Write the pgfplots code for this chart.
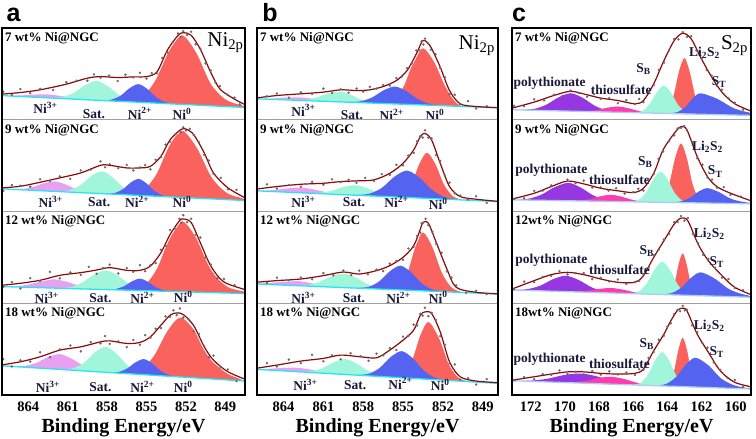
\documentclass[border=0pt]{standalone}
\usepackage{fontspec}
\setmainfont{Liberation Serif}
\newfontfamily\sansf{Liberation Sans}
\usepackage{pgfplots}
\pgfplotsset{compat=1.18}

\definecolor{cRed}{RGB}{250,98,94}
\definecolor{cBlue}{RGB}{85,100,240}
\definecolor{cAqua}{RGB}{160,245,218}
\definecolor{cViolet}{RGB}{232,160,240}
\definecolor{cPurple}{RGB}{150,55,225}
\definecolor{cPink}{RGB}{255,60,175}
\definecolor{cFit}{RGB}{140,10,10}
\definecolor{cBase}{RGB}{40,228,245}
\definecolor{cBaseC}{RGB}{170,205,245}
\definecolor{cLab}{RGB}{25,25,60}
\definecolor{cDot}{RGB}{105,105,105}

\pgfplotsset{
  sub/.style={scale only axis, height=91.75pt, ymin=0, ymax=92,
    ytick=\empty, xtick=\empty, x dir=reverse, anchor=north west,
    axis line style={draw=gray!75, line width=0.8pt},
    /pgf/number format/assume math mode=true,
    basel/.style={draw=cBase, line width=1.3pt}},
  pa/.style={sub, width=243pt, xmin=847.5, xmax=866},
  pb/.style={sub, width=241pt, xmin=847.85, xmax=866},
  pc/.style={sub, width=239pt, xmin=159.1, xmax=173.1,
    basel/.style={draw=cBaseC, line width=1.3pt}},
  bot/.style={xlabel={Binding Energy/eV},
    xlabel style={font=\bfseries\fontsize{20}{20}\selectfont,
      at={(axis description cs:0.5,0)}, anchor=base, yshift=-37pt},
    xticklabel style={font=\bfseries\fontsize{14.5}{14.5}\selectfont,
      anchor=base, yshift=-16.5pt},
    xtick pos=left, tick align=inside, major tick length=3pt,
    tick style={black, line width=0.8pt}},
  comp/.style={draw=none, fill=#1, smooth},
  cover/.style={draw=none, fill=white},
  halo/.style={white, line width=3.2pt, smooth},
  fitl/.style={cFit, line width=1.2pt, smooth},
  dots/.style={only marks, mark=*, mark size=1.0pt, color=cDot},
}
\tikzset{
  pk/.style={font=\bfseries\fontsize{13.5}{14}\selectfont, text=cLab, inner sep=0pt},
  tl/.style={font=\bfseries\fontsize{13}{14}\selectfont, anchor=west, inner sep=0pt},
  big/.style={font=\fontsize{21}{21}\selectfont, anchor=base east, inner sep=0pt},
}
% envelope, baseline
\newcommand{\spec}[2]{%
  \addplot[cover] coordinates {#2} \closedcycle;
  \addplot[halo] coordinates {#1};
  \addplot[basel] coordinates {#2};
  \addplot[fitl] coordinates {#1};}
\newcommand{\nilabels}[8]{%
  \node[pk] at (axis cs:#1,#2) {Ni\textsuperscript{3+}};
  \node[pk] at (axis cs:#3,#4) {Sat.};
  \node[pk] at (axis cs:#5,#6) {Ni\textsuperscript{2+}};
  \node[pk] at (axis cs:#7,#8) {Ni\textsuperscript{0}};}

\begin{document}
\begin{tikzpicture}
\path[use as bounding box] (0pt,0pt) rectangle (756pt,439pt);

% ---------------- panel a ----------------
\begin{axis}[pa, at={(2pt,411pt)}]
\addplot[comp=cRed] coordinates {(856.35,18.8)(855.34,22.8)(854.33,39.2)(853.31,68.3)(852.3,84.7)(851.21,67.0)(850.13,36.5)(849.04,20.8)(847.95,15.1)(846.9,12.9)} \closedcycle;
\addplot[comp=cViolet] coordinates {(866.5,24.5)(865.53,24.2)(864.55,24.4)(863.58,25.2)(862.6,25.5)(861.62,24.0)(860.65,21.9)(859.67,20.4)(858.7,19.5)} \closedcycle;
\addplot[comp=cAqua] coordinates {(862.25,22.0)(861.39,22.8)(860.53,27.0)(859.66,34.7)(858.8,39.0)(857.94,33.6)(857.08,24.8)(856.21,19.5)(855.35,17.5)} \closedcycle;
\addplot[comp=cBlue] coordinates {(858.3,19.4)(857.63,20.3)(856.95,24.3)(856.28,31.7)(855.6,35.7)(854.93,30.8)(854.25,22.5)(853.58,17.7)(852.9,16.0)} \closedcycle;
\spec{(866.2,25.5)(864.6,27.3)(863.1,30)(861.1,35.7)(859.5,41.7)(858.5,43.3)(857.2,42.3)(856.0,43)(855.0,43.3)(854.2,48)(853.4,70)(852.6,84.5)(852.2,87.3)(851.6,84.7)(850.9,70.7)(850.1,47.3)(849.4,30.7)(848.3,20.7)(847.3,13.8)}{(866,24.2)(847.5,12.3)}
\addplot[dots] coordinates {(865.9,28.2)(865.25,25.0)(864.6,30.8)(863.85,26.65)(863.1,31)(862.1,29.85)(861.1,37.7)(860.3,39.2)(859.5,39.2)(859.0,45.5)(858.5,42.3)(857.85,44.3)(857.2,38.8)(856.6,45.15)(856.0,42.5)(855.5,47.15)(855.0,41.3)(854.6,46.65)(854.2,46.5)(853.8,62)(853.4,67.5)(853.0,77.75)(852.6,86.5)(852.4,82.9)(852.2,88.8)(851.9,85)(851.6,88.2)(851.25,75.7)(850.9,71.2)(850.5,56.5)(850.1,49.3)(849.75,37.5)(849.4,33.7)(848.85,25.2)(848.3,22.2)(847.9,15.35)(847.5,16.5)};
\nilabels{862.7}{11.7}{859.0}{5.7}{855.5}{6.3}{852.3}{5.7}
\node[tl] at (rel axis cs:0.012,0.89) {7 wt\% Ni@NGC};
\node[big] at (rel axis cs:0.995,0.80) {Ni\textsubscript{2p}};
\end{axis}

\begin{axis}[pa, at={(2pt,319.25pt)}]
\addplot[comp=cRed] coordinates {(856.2,17.2)(855.225,21.3)(854.25,37.1)(853.275,65.25)(852.3,81.0)(851.175,63.9)(850.05,34.4)(848.925,18.9)(847.8,13.7)(846.9,11.6)} \closedcycle;
\addplot[comp=cViolet] coordinates {(865.3,22.4)(864.48,22.5)(863.65,24.5)(862.83,28.3)(862.0,30.2)(861.18,27.2)(860.35,22.4)(859.53,19.4)(858.7,18.2)} \closedcycle;
\addplot[comp=cAqua] coordinates {(861.7,20.25)(860.88,21.3)(860.05,26.2)(859.23,35.3)(858.4,40.3)(857.58,34.3)(856.75,24.1)(855.93,18.1)(855.1,16.05)} \closedcycle;
\addplot[comp=cBlue] coordinates {(858.0,17.8)(857.4,18.6)(856.8,22.3)(856.2,29.0)(855.6,32.7)(855.0,28.2)(854.4,20.8)(853.8,16.3)(853.2,14.8)} \closedcycle;
\spec{(866.2,23.5)(864.6,25.3)(863.1,29.3)(861.6,33.7)(860.0,38.7)(858.5,46.3)(857.8,46.3)(856.5,43.7)(855.5,43.7)(854.7,45.3)(853.9,55.3)(853.2,72)(852.4,82)(852.0,82.7)(851.4,77)(850.6,58.7)(849.9,38.7)(848.8,23.7)(847.3,12.3)}{(866,22.7)(847.5,11)}
\addplot[dots] coordinates {(865.9,20.7)(865.25,26.5)(864.6,25.8)(863.85,24.8)(863.1,32.3)(862.35,30.5)(861.6,35.2)(860.8,32.7)(860.0,41.2)(859.25,42.0)(858.5,50.3)(858.15,44.3)(857.8,47.3)(857.15,43.5)(856.5,46.7)(856.0,41.2)(855.5,44.2)(855.1,46.5)(854.7,42.3)(854.3,51.8)(853.9,54.3)(853.55,67.15)(853.2,70)(852.8,77.5)(852.4,79.5)(852.2,84.35)(852.0,81.2)(851.7,82.85)(851.4,76.5)(851.0,69.35)(850.6,56.7)(850.25,51.2)(849.9,37.7)(849.35,33.7)(848.8,22.2)(848.15,21.7)(847.5,10.7)};
\nilabels{862.3}{9.7}{858.6}{9.7}{855.7}{9.7}{852.3}{9.7}
\node[tl] at (rel axis cs:0.012,0.89) {9 wt\% Ni@NGC};
\end{axis}

\begin{axis}[pa, at={(2pt,227.5pt)}]
\addplot[comp=cRed] coordinates {(856.05,13.7)(855.11,18.3)(854.18,35.2)(853.24,65.4)(852.3,82.3)(851.18,64.6)(850.05,33.7)(848.93,17.2)(847.8,12.3)(846.9,10.5)} \closedcycle;
\addplot[comp=cViolet] coordinates {(865.9,16.8)(864.93,17.0)(863.95,18.8)(862.98,22.2)(862.0,24.0)(861.03,21.4)(860.05,17.3)(859.08,14.8)(858.1,13.8)} \closedcycle;
\addplot[comp=cAqua] coordinates {(861.7,15.3)(860.8,16.2)(859.9,20.7)(859.0,28.65)(858.1,33.0)(857.2,28.0)(856.3,19.3)(855.4,14.2)(854.5,12.6)} \closedcycle;
\addplot[comp=cBlue] coordinates {(857.9,13.7)(857.3,14.4)(856.7,17.1)(856.1,22.0)(855.5,24.7)(854.9,21.6)(854.3,16.2)(853.7,13.0)(853.1,11.9)} \closedcycle;
\spec{(866.2,17.8)(864.6,20)(863.1,23)(861.6,28)(860.0,30.7)(858.8,33.3)(857.8,35.7)(856.5,33)(855.5,33)(854.7,37.3)(853.9,50.7)(853.2,69)(852.5,82.5)(852.2,84.5)(851.6,81)(850.9,60.7)(850.1,37.3)(849.1,21.3)(847.3,13)}{(866,16.7)(847.5,9.7)}
\addplot[dots] coordinates {(865.9,16.5)(865.25,21.25)(864.6,14.75)(863.85,25.25)(863.1,22.25)(862.35,31.5)(861.6,25)(860.8,30.85)(860.0,28.45)(859.4,36.5)(858.8,29.55)(858.3,35.25)(857.8,38.7)(857.15,29.85)(856.5,35.25)(856.0,31.5)(855.5,38.25)(855.1,32.15)(854.7,38.05)(854.3,40.25)(853.9,53.7)(853.55,57.6)(853.2,73.5)(852.85,75)(852.5,84.75)(852.35,80.5)(852.2,88.25)(851.9,81.25)(851.6,84.75)(851.25,68.6)(850.9,65.95)(850.5,46)(850.1,38.8)(849.6,24.8)(849.1,24.3)(848.3,18.05)(847.5,9.55)};
\nilabels{862.6}{5.7}{858.5}{5}{855.3}{5.7}{852.2}{6.7}
\node[tl] at (rel axis cs:0.012,0.89) {12 wt\% Ni@NGC};
\end{axis}

\begin{axis}[pa, bot, at={(2pt,135.75pt)}, xtick={849,852,855,858,861,864}]
\addplot[comp=cRed] coordinates {(856.45,22.1)(855.44,25.4)(854.43,39.1)(853.41,63.9)(852.4,77.65)(851.2,62.1)(850.0,35.5)(848.8,21.1)(847.6,16.1)(846.9,14.5)} \closedcycle;
\addplot[comp=cViolet] coordinates {(865.2,28.8)(864.3,29.1)(863.4,32.1)(862.5,37.95)(861.6,41.0)(860.7,36.45)(859.8,29.2)(858.9,24.6)(858.0,22.9)} \closedcycle;
\addplot[comp=cAqua] coordinates {(861.4,25.8)(860.58,26.8)(859.75,32.4)(858.93,42.7)(858.1,48.3)(857.28,41.35)(856.45,29.7)(855.63,22.7)(854.8,20.3)} \closedcycle;
\addplot[comp=cBlue] coordinates {(857.75,22.7)(857.11,23.2)(856.48,26.5)(855.84,32.7)(855.2,36.0)(854.56,31.6)(853.93,24.4)(853.29,20.05)(852.65,18.4)} \closedcycle;
\spec{(866.2,29.8)(864.6,33.3)(863.1,38.3)(861.6,45)(860.0,48.3)(858.5,53.3)(857.8,54.3)(856.5,51.7)(855.5,52.7)(854.7,58.3)(853.9,70)(853.2,80)(852.7,82.3)(852.2,80.7)(851.4,69.5)(850.6,48.3)(849.9,35)(848.8,23.3)(847.3,14.8)}{(866,29.3)(847.5,14)}
\addplot[dots] coordinates {(865.9,36)(865.25,28.65)(864.6,34.8)(863.85,33.55)(863.1,42.8)(862.35,37.9)(861.6,45.75)(860.8,49.65)(860.0,43.8)(859.25,53.05)(858.5,51.8)(858.15,59.05)(857.8,51.3)(857.15,53.75)(856.5,47.95)(856.0,55.2)(855.5,50.45)(855.1,60)(854.7,57.55)(854.3,66.4)(853.9,67)(853.55,78.75)(853.2,78.5)(852.95,84.9)(852.7,80.05)(852.45,86.75)(852.2,77.7)(851.8,76)(851.4,63.8)(851.0,61.3)(850.6,49.05)(850.25,37.9)(849.9,39.5)(849.35,27.65)(848.8,25.55)(848.15,13.9)(847.5,18.75)};
\nilabels{862.5}{8.3}{858.5}{8.3}{855.3}{8.3}{852.2}{8.3}
\node[tl] at (rel axis cs:0.012,0.89) {18 wt\% Ni@NGC};
\end{axis}

% ---------------- panel b ----------------
\begin{axis}[pb, at={(257pt,411pt)}]
\addplot[comp=cRed] coordinates {(856.35,16.8)(855.64,20.45)(854.93,34.0)(854.21,58.2)(853.5,71.7)(852.64,57.4)(851.78,32.45)(850.91,18.05)(850.05,13.7)(849.2,12.7)} \closedcycle;
\addplot[comp=cViolet] coordinates {(866.7,21.4)(865.73,21.1)(864.75,21.4)(863.78,22.2)(862.8,22.4)(861.83,21.2)(860.85,19.4)(859.88,18.2)(858.9,17.5)} \closedcycle;
\addplot[comp=cAqua] coordinates {(863.15,19.7)(862.33,20.1)(861.5,22.3)(860.68,26.5)(859.85,28.65)(859.03,25.6)(858.2,20.6)(857.38,17.6)(856.55,16.4)} \closedcycle;
\addplot[comp=cBlue] coordinates {(859.05,17.8)(858.19,18.5)(857.33,22.4)(856.46,29.5)(855.6,33.3)(854.74,28.6)(853.88,20.7)(853.01,16.0)(852.15,14.3)} \closedcycle;
\spec{(866.2,21.6)(864.5,24.3)(862.7,26)(861,27.7)(859.7,30)(858.5,29.3)(857.5,30)(856.5,33.3)(855.5,39.3)(854.7,49.3)(854.0,66)(853.6,77.7)(853.35,79.3)(852.9,72.7)(852.2,52.7)(851.5,29.3)(850.7,16)(849.5,13.3)(847.7,12)}{(866,21)(847.85,12)}
\addplot[dots] coordinates {(866,19.2)(865.25,23.5)(864.5,26.3)(863.6,22.15)(862.7,27.5)(861.85,25.85)(861,31.2)(860.35,26.85)(859.7,30.5)(859.1,27.15)(858.5,31.3)(858.0,28.15)(857.5,33)(857.0,31.15)(856.5,34.8)(856.0,34.3)(855.5,41.8)(855.1,43.3)(854.7,51.8)(854.35,56.15)(854.0,69.5)(853.8,69.85)(853.6,78.7)(853.47,75.5)(853.35,81.3)(853.12,76.5)(852.9,70.2)(852.55,65.7)(852.2,51.7)(851.85,42.5)(851.5,25.8)(851.1,25.15)(850.7,15.5)(850.1,18.65)(849.5,11.3)(848.7,13.65)(847.85,10.5)};
\nilabels{862.5}{9.3}{858.85}{4.3}{855.85}{5}{852.6}{5}
\node[tl] at (rel axis cs:0.012,0.89) {7 wt\% Ni@NGC};
\node[big] at (rel axis cs:0.988,0.77) {Ni\textsubscript{2p}};
\end{axis}

\begin{axis}[pb, at={(257pt,319.25pt)}]
\addplot[comp=cRed] coordinates {(855.45,15.0)(854.89,17.8)(854.33,28.7)(853.76,48.1)(853.2,59.0)(852.56,47.4)(851.93,27.3)(851.29,15.7)(850.65,12.15)} \closedcycle;
\addplot[comp=cViolet] coordinates {(866.6,21.2)(865.63,20.9)(864.65,21.6)(863.68,23.2)(862.7,24.0)(861.73,22.1)(860.75,19.3)(859.78,17.4)(858.8,16.6)} \closedcycle;
\addplot[comp=cAqua] coordinates {(862.2,18.6)(861.3,18.7)(860.4,20.65)(859.5,24.45)(858.6,26.3)(857.7,23.35)(856.8,18.55)(855.9,15.55)(855.0,14.3)} \closedcycle;
\addplot[comp=cBlue] coordinates {(858.45,16.55)(857.51,17.9)(856.58,23.9)(855.64,35.0)(854.7,41.0)(853.76,33.9)(852.83,21.7)(851.89,14.6)(850.95,12.1)} \closedcycle;
\spec{(866.2,22.2)(864.5,25)(862.7,27.3)(861,28.3)(859.7,30)(858.5,30.7)(857.2,31.7)(856,38.3)(855,48.3)(854.2,61.7)(853.7,75)(853.35,78.3)(852.85,71.7)(852.2,48.3)(851.5,25)(850.7,15)(849.5,12.3)(847.7,10)}{(866,20.7)(847.85,10)}
\addplot[dots] coordinates {(866,21.3)(865.25,27.15)(864.5,23)(863.6,26.65)(862.7,24.8)(861.85,29.8)(861,26.8)(860.35,32.15)(859.7,29.5)(859.1,31.85)(858.5,28.7)(857.85,33.7)(857.2,30.7)(856.6,37.5)(856,36.8)(855.5,46.8)(855,46.3)(854.6,56)(854.2,58.7)(853.95,70.35)(853.7,75.5)(853.52,74.15)(853.35,81.3)(853.1,74)(852.85,73.2)(852.52,56.5)(852.2,50.8)(851.85,36.15)(851.5,29)(851.1,18)(850.7,16)(850.1,12.15)(849.5,15.3)(848.7,8.65)(847.85,10.5)};
\nilabels{862.5}{10}{858.7}{9.3}{855.5}{9.3}{852.35}{7.7}
\node[tl] at (rel axis cs:0.012,0.89) {9 wt\% Ni@NGC};
\end{axis}

\begin{axis}[pb, at={(257pt,227.5pt)}]
\addplot[comp=cRed] coordinates {(855.75,14.3)(855.19,18.0)(854.63,32.0)(854.06,56.9)(853.5,71.0)(852.79,56.2)(852.08,30.6)(851.36,15.9)(850.65,11.5)} \closedcycle;
\addplot[comp=cViolet] coordinates {(867.1,19.95)(866.13,19.8)(865.15,20.4)(864.18,22.0)(863.2,22.7)(862.23,20.9)(861.25,18.3)(860.28,16.5)(859.3,15.65)} \closedcycle;
\addplot[comp=cAqua] coordinates {(863.1,17.9)(862.2,18.3)(861.3,21.35)(860.4,27.0)(859.5,30.0)(858.6,26.0)(857.7,19.35)(856.8,15.3)(855.9,13.9)} \closedcycle;
\addplot[comp=cBlue] coordinates {(858.35,15.4)(857.56,16.6)(856.78,22.1)(855.99,32.15)(855.2,37.65)(854.41,31.25)(853.63,20.4)(852.84,14.0)(852.05,11.9)} \closedcycle;
\spec{(866.2,20.9)(864.5,22.7)(862.7,24.3)(861,27.7)(859.5,31.3)(858.3,29.3)(857,32.7)(856,37.7)(855,46)(854.2,57.7)(853.7,74.3)(853.5,81)(853.1,80.3)(852.5,61)(851.7,34.3)(851,16)(849.5,11)(847.7,9.3)}{(866,19.3)(847.85,9.3)}
\addplot[dots] coordinates {(866,23)(865.25,20.35)(864.5,25.7)(863.6,23)(862.7,25.8)(861.85,24)(861,30.2)(860.25,28)(859.5,32.8)(858.9,28.3)(858.3,32.8)(857.65,29)(857,33.7)(856.5,32.2)(856,39.7)(855.5,42.35)(855,43.5)(854.6,54.85)(854.2,56.7)(853.95,67.5)(853.7,70.8)(853.6,80.15)(853.5,80.5)(853.3,84.65)(853.1,78.3)(852.8,71.65)(852.5,59.5)(852.1,50.65)(851.7,31.8)(851.35,25.65)(851,18)(850.25,10.5)(849.5,12.5)(848.7,9.15)(847.85,12.8)};
\nilabels{862.5}{5.3}{858.7}{5.3}{855.35}{5.3}{852.35}{6}
\node[tl] at (rel axis cs:0.012,0.89) {12 wt\% Ni@NGC};
\end{axis}

\begin{axis}[pb, bot, at={(257pt,135.75pt)}, xtick={849,852,855,858,861,864}]
\addplot[comp=cRed] coordinates {(855.5,18.2)(854.9,21.7)(854.3,35.4)(853.7,59.6)(853.1,73.25)(852.35,58.6)(851.6,33.3)(850.85,18.6)(850.1,14.0)} \closedcycle;
\addplot[comp=cViolet] coordinates {(867.2,26.65)(866.15,26.1)(865.1,26.3)(864.05,27.15)(863.0,27.3)(861.95,25.5)(860.9,23.1)(859.85,21.25)(858.8,20.15)} \closedcycle;
\addplot[comp=cAqua] coordinates {(862.8,23.4)(861.94,23.8)(861.08,26.9)(860.21,32.8)(859.35,36.0)(858.49,31.5)(857.63,24.2)(856.76,19.8)(855.9,18.1)} \closedcycle;
\addplot[comp=cBlue] coordinates {(858.4,20.1)(857.58,21.3)(856.75,27.3)(855.93,38.1)(855.1,44.0)(854.28,36.9)(853.45,24.7)(852.63,17.5)(851.8,15.0)} \closedcycle;
\spec{(866.2,26.5)(864.5,30)(862.7,34)(861,36.7)(859.7,40)(858.2,38.3)(857,37.3)(856,45)(855,55)(854.2,65)(853.7,80)(853.35,83.3)(852.85,81.7)(852.2,63.3)(851.5,33.3)(850.7,18.3)(849.5,14)(847.7,12.3)}{(866,25.7)(847.85,11.7)}
\addplot[dots] coordinates {(866,23.9)(865.25,31.85)(864.5,28.6)(863.6,35.5)(862.7,31.9)(861.85,40.25)(861,33.9)(860.35,39.75)(859.7,35.8)(858.95,41.95)(858.2,39)(857.6,34.3)(857,41.5)(856.5,39.75)(856,47.1)(855.5,45.1)(855,58.5)(854.6,59.3)(854.2,70.6)(853.95,69.7)(853.7,81.4)(853.52,79.55)(853.35,87.5)(853.1,79)(852.85,82.4)(852.52,75.3)(852.2,59.1)(851.85,50.4)(851.5,31.9)(851.1,30.7)(850.7,15.5)(850.1,16.85)(849.5,10.5)(848.7,15.95)(847.85,10.2)};
\nilabels{862.35}{10}{858.6}{10}{855.2}{11.7}{852.2}{10}
\node[tl] at (rel axis cs:0.012,0.89) {18 wt\% Ni@NGC};
\end{axis}

% ---------------- panel c ----------------
\begin{axis}[pc, at={(512pt,411pt)}]
\addplot[comp=cPurple] coordinates {(172.51,10.0)(171.8,10.9)(171.09,15.05)(170.37,22.5)(169.66,26.6)(168.95,21.9)(168.24,13.9)(167.52,9.2)(166.81,7.7)} \closedcycle;
\addplot[comp=cPink] coordinates {(169.3,8.6)(168.7,8.7)(168.1,9.9)(167.5,12.1)(166.9,13.3)(166.3,11.6)(165.7,8.9)(165.1,7.3)(164.5,6.6)} \closedcycle;
\addplot[comp=cRed] coordinates {(164.26,7.0)(163.95,10.8)(163.63,24.4)(163.32,48.3)(163.0,61.9)(162.69,48.1)(162.37,23.8)(162.06,10.0)(161.74,6.0)} \closedcycle;
\addplot[comp=cAqua] coordinates {(165.85,7.4)(165.44,9.1)(165.03,15.8)(164.61,27.7)(164.2,34.4)(163.79,27.3)(163.38,15.15)(162.96,8.1)(162.55,6.0)} \closedcycle;
\addplot[comp=cBlue] coordinates {(163.85,6.5)(163.4,7.8)(162.95,12.7)(162.5,21.6)(162.05,26.5)(161.08,21.0)(160.1,11.5)(159.13,7.0)(158.15,4.7)} \closedcycle;
\spec{(173.2,11.2)(171.8,17.7)(170.65,24.3)(169.66,28.5)(168.7,25)(167.9,21.7)(166.9,19.3)(165.9,16)(165.4,19.3)(164.8,36)(164.2,59.3)(163.6,79.3)(163.1,86.7)(162.6,81)(162.0,61)(161.4,42.7)(160.8,27.7)(160.05,16)(158.9,7.3)}{(173.1,10.0)(159.1,4.3)}
\addplot[dots] coordinates {(172.98,14)(172.39,13.65)(171.8,20.5)(171.22,19.4)(170.65,25.1)(170.15,23.6)(169.66,29.3)(169.18,26.75)(168.7,23)(168.3,25.75)(167.9,20.9)(167.4,21.7)(166.9,16.5)(166.4,19.65)(165.9,15.6)(165.65,20.85)(165.4,17.7)(165.1,28.45)(164.8,34.8)(164.5,50.05)(164.2,57.3)(163.9,69.7)(163.6,80.9)(163.35,80.6)(163.1,87.9)(162.85,83.05)(162.6,83.8)(162.3,69.4)(162.0,61.4)(161.7,49.85)(161.4,44.3)(161.1,34)(160.8,30.1)(160.42,21.45)(160.05,17.2)(159.57,10.25)(159.08,9.7)};
\node[pk] at (axis cs:170.9,36.7) {polythionate};
\node[pk] at (axis cs:166.7,30) {thiosulfate};
\node[pk] at (axis cs:165.4,51) {S\textsubscript{B}};
\node[pk] at (axis cs:161.82,66.7) {Li\textsubscript{2}S\textsubscript{2}};
\node[pk] at (axis cs:160.97,37.7) {S\textsubscript{T}};
\node[tl] at (rel axis cs:0.012,0.89) {7 wt\% Ni@NGC};
\node[big] at (rel axis cs:0.988,0.77) {S\textsubscript{2p}};
\end{axis}

\begin{axis}[pc, at={(512pt,319.25pt)}]
\addplot[comp=cPurple] coordinates {(172.85,11.8)(172.1,12.9)(171.35,17.1)(170.6,24.7)(169.85,29.0)(169.1,24.3)(168.35,16.25)(167.6,11.6)(166.85,10.1)} \closedcycle;
\addplot[comp=cPink] coordinates {(169.7,10.8)(169.1,11.1)(168.5,12.6)(167.9,15.3)(167.3,16.75)(166.7,14.95)(166.1,11.9)(165.5,10.0)(164.9,9.5)} \closedcycle;
\addplot[comp=cRed] coordinates {(164.55,9.95)(164.21,13.95)(163.88,28.4)(163.54,53.8)(163.2,68.3)(162.86,53.6)(162.53,28.0)(162.19,13.35)(161.85,9.15)} \closedcycle;
\addplot[comp=cAqua] coordinates {(166.05,10.0)(165.64,12.1)(165.23,19.45)(164.81,32.55)(164.4,40.0)(163.99,32.35)(163.58,19.0)(163.16,11.4)(162.75,9.0)} \closedcycle;
\addplot[comp=cBlue] coordinates {(163.75,9.2)(163.23,10.1)(162.7,13.6)(162.18,19.9)(161.65,23.4)(160.98,19.5)(160.3,12.9)(159.63,9.85)(158.95,8.25)} \closedcycle;
\spec{(173.2,12.0)(171.8,18.3)(170.8,25)(169.85,30.5)(168.9,27.7)(167.9,23.3)(167.0,21)(166.0,19)(165.4,23.3)(164.8,38.3)(164.25,61.7)(163.6,78.3)(163.2,85)(162.85,81.7)(162.25,55)(161.65,35)(161.1,25)(160.3,18.3)(158.9,9.5)}{(173.1,11.7)(159.1,7.7)}
\addplot[dots] coordinates {(172.98,12.7)(172.39,13.3)(171.8,20.7)(171.3,20.85)(170.8,26.2)(170.32,24.7)(169.85,32)(169.38,28.45)(168.9,30.9)(168.4,23.9)(167.9,24.1)(167.45,20.95)(167.0,23.4)(166.5,18)(166.0,19.4)(165.7,22.75)(165.4,20.9)(165.1,32)(164.8,37.5)(164.52,52.8)(164.25,60.1)(163.92,70.4)(163.6,76.3)(163.4,83.25)(163.2,83.8)(163.02,85.75)(162.85,81.3)(162.55,69.55)(162.25,53.4)(161.95,47)(161.65,34.2)(161.38,32)(161.1,23.8)(160.7,24.45)(160.3,16.7)(159.7,14.95)(159.1,7.6)};
\node[pk] at (axis cs:170.8,41.7) {polythionate};
\node[pk] at (axis cs:166.8,31.7) {thiosulfate};
\node[pk] at (axis cs:165.3,50) {S\textsubscript{B}};
\node[pk] at (axis cs:161.65,65) {Li\textsubscript{2}S\textsubscript{2}};
\node[pk] at (axis cs:161.2,40) {S\textsubscript{T}};
\node[tl] at (rel axis cs:0.012,0.89) {9 wt\% Ni@NGC};
\end{axis}

\begin{axis}[pc, at={(512pt,227.5pt)}]
\addplot[comp=cPurple] coordinates {(172.95,13.4)(172.2,14.1)(171.45,17.6)(170.7,24.1)(169.95,27.6)(169.2,23.35)(168.45,16.1)(167.7,11.8)(166.95,10.3)} \closedcycle;
\addplot[comp=cPink] coordinates {(170.0,11.8)(169.33,11.7)(168.65,12.6)(167.98,14.4)(167.3,15.3)(166.63,13.7)(165.95,11.2)(165.28,9.6)(164.6,8.95)} \closedcycle;
\addplot[comp=cRed] coordinates {(164.0,9.0)(163.78,11.8)(163.55,21.95)(163.33,39.9)(163.1,50.1)(162.88,39.7)(162.65,21.5)(162.43,11.1)(162.2,8.1)} \closedcycle;
\addplot[comp=cAqua] coordinates {(166.1,10.0)(165.65,12.0)(165.2,19.9)(164.75,33.8)(164.3,41.7)(163.85,33.4)(163.4,18.9)(162.95,10.6)(162.5,8.2)} \closedcycle;
\addplot[comp=cBlue] coordinates {(164.3,9.0)(163.74,10.3)(163.18,15.7)(162.61,25.5)(162.05,31.0)(161.23,24.8)(160.4,14.3)(159.58,9.05)(158.75,6.6)} \closedcycle;
\spec{(173.2,13.6)(171.8,22.7)(170.8,28.7)(169.85,31)(168.9,28.7)(167.9,24.3)(166.9,21)(165.9,21)(165.4,27.7)(164.8,46)(164.2,62.7)(163.6,79.3)(163.2,85.3)(162.8,82.7)(162.2,59.3)(161.6,42.7)(160.8,27.7)(160.05,16)(158.9,7.2)}{(173.1,13.3)(159.1,6.0)}
\addplot[dots] coordinates {(172.98,13.9)(172.39,21.7)(171.8,21.1)(171.3,26.5)(170.8,27.5)(170.32,32.25)(169.85,29)(169.38,30.25)(168.9,30.3)(168.4,24.1)(167.9,25.5)(167.4,21.85)(166.9,23.8)(166.4,19.4)(165.9,21.4)(165.65,22.35)(165.4,29.3)(165.1,35.65)(164.8,48.4)(164.5,53.95)(164.2,63.9)(163.9,69.4)(163.6,81.3)(163.4,81.5)(163.2,87.3)(163.0,82.8)(162.8,85.5)(162.5,69.4)(162.2,60.1)(161.9,48.6)(161.6,44.3)(161.2,35.6)(160.8,25.7)(160.42,24.25)(160.05,15.2)(159.57,13.05)(159.08,4.9)};
\node[pk] at (axis cs:170.8,42.7) {polythionate};
\node[pk] at (axis cs:166.8,33.7) {thiosulfate};
\node[pk] at (axis cs:165.2,52.7) {S\textsubscript{B}};
\node[pk] at (axis cs:161.55,70) {Li\textsubscript{2}S\textsubscript{2}};
\node[pk] at (axis cs:161.1,41) {S\textsubscript{T}};
\node[tl] at (rel axis cs:0.012,0.89) {12wt\% Ni@NGC};
\end{axis}

\begin{axis}[pc, bot, at={(512pt,135.75pt)}, xtick={160,162,164,166,168,170,172}]
\addplot[comp=cPurple] coordinates {(173.0,14.3)(172.03,14.4)(171.05,16.2)(170.08,19.9)(169.1,21.7)(168.13,18.7)(167.15,13.9)(166.18,11.0)(165.2,9.7)} \closedcycle;
\addplot[comp=cPink] coordinates {(170.3,12.7)(169.55,12.8)(168.8,14.1)(168.05,17.0)(167.3,18.3)(166.55,16.1)(165.8,12.4)(165.05,10.1)(164.3,9.2)} \closedcycle;
\addplot[comp=cRed] coordinates {(164.09,9.4)(163.84,12.7)(163.6,24.6)(163.35,45.5)(163.1,57.4)(162.85,45.2)(162.61,24.0)(162.36,11.8)(162.11,8.3)} \closedcycle;
\addplot[comp=cAqua] coordinates {(165.95,10.4)(165.54,12.5)(165.13,20.6)(164.71,35.0)(164.3,43.1)(163.89,34.5)(163.48,19.65)(163.06,11.0)(162.65,8.5)} \closedcycle;
\addplot[comp=cBlue] coordinates {(164.6,9.6)(164.04,11.3)(163.48,18.2)(162.91,30.55)(162.35,37.4)(161.6,29.8)(160.85,16.6)(160.1,9.8)(159.35,7.15)(158.6,6.0)} \closedcycle;
\spec{(173.2,14.5)(171.8,18.3)(170.8,21)(169.85,23.2)(168.9,23.2)(167.9,21.7)(166.9,21)(165.9,21.7)(165.4,26)(164.8,44.3)(164.2,61)(163.8,74.3)(163.4,85)(163.1,87)(162.85,84.3)(162.25,61)(161.65,44.3)(160.9,24.3)(160.05,12.7)(158.9,7.5)}{(173.1,14.3)(159.1,6.0)}
\addplot[dots] coordinates {(172.98,14.7)(172.39,17.9)(171.8,15.9)(171.3,20.85)(170.8,20.2)(170.32,24.65)(169.85,21.1)(169.38,23.1)(168.9,20.7)(168.4,23.8)(167.9,20.5)(167.4,23.75)(166.9,20.6)(166.4,22.55)(165.9,20.1)(165.65,25.85)(165.4,25.2)(165.1,37.15)(164.8,43.1)(164.5,55.45)(164.2,59.4)(164.0,68.45)(163.8,71.9)(163.6,81.25)(163.4,85.4)(163.25,84)(163.1,89.4)(162.98,84.85)(162.85,85.5)(162.55,69.85)(162.25,63)(161.95,52.25)(161.65,47.5)(161.28,32.7)(160.9,25.1)(160.48,17.3)(160.05,15.1)(159.57,8.2)(159.08,8.1)};
\node[pk] at (axis cs:170.9,36) {polythionate};
\node[pk] at (axis cs:166.8,31) {thiosulfate};
\node[pk] at (axis cs:165.2,51) {S\textsubscript{B}};
\node[pk] at (axis cs:161.55,69.3) {Li\textsubscript{2}S\textsubscript{2}};
\node[pk] at (axis cs:161.1,42.7) {S\textsubscript{T}};
\node[tl] at (rel axis cs:0.012,0.89) {18wt\% Ni@NGC};
\end{axis}

% outer frames and panel letters
\draw[line width=1.8pt] (2pt,44pt) rectangle (245pt,411pt);
\draw[line width=1.8pt] (257pt,44pt) rectangle (498pt,411pt);
\draw[line width=1.8pt] (512pt,44pt) rectangle (751pt,411pt);
\node[font=\sansf\bfseries\fontsize{25}{25}\selectfont, anchor=base] at (13.5pt,417pt) {a};
\node[font=\sansf\bfseries\fontsize{25}{25}\selectfont, anchor=base] at (270pt,417pt) {b};
\node[font=\sansf\bfseries\fontsize{25}{25}\selectfont, anchor=base] at (519pt,417pt) {c};
\end{tikzpicture}
\end{document}
